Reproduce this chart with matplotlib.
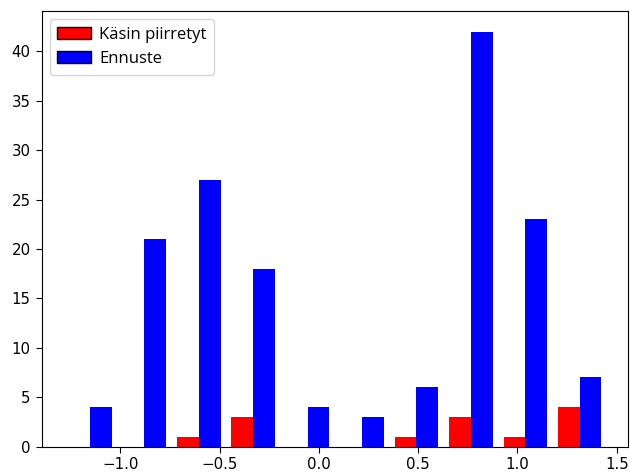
import numpy as np
import matplotlib
matplotlib.use("Agg")
import matplotlib.pyplot as plt
from matplotlib.patches import Patch

# bin edges and per-bin counts
edges = np.linspace(-1.289, 1.450, 11)
kasin = [0, 0, 1, 3, 0, 0, 1, 3, 1, 4]
ennuste = [4, 21, 27, 18, 4, 3, 6, 42, 23, 7]

centers = (edges[:-1] + edges[1:]) / 2

fig = plt.figure(figsize=(6.3, 4.74), dpi=100)
plt.hist([centers, centers], bins=edges, weights=[kasin, ennuste],
         color=["red", "blue"])
handles = [Patch(facecolor="red", edgecolor="black", label="Käsin piirretyt"),
           Patch(facecolor="blue", edgecolor="black", label="Ennuste")]
plt.legend(handles=handles, loc="upper left", handletextpad=0.5,
           borderpad=0.45, prop={"family": "Open Sans", "size": 12})
plt.tick_params(labelsize=10.8, length=4.3)
plt.subplots_adjust(left=0.066, right=0.997, top=0.977, bottom=0.058)
plt.savefig("out.png")
